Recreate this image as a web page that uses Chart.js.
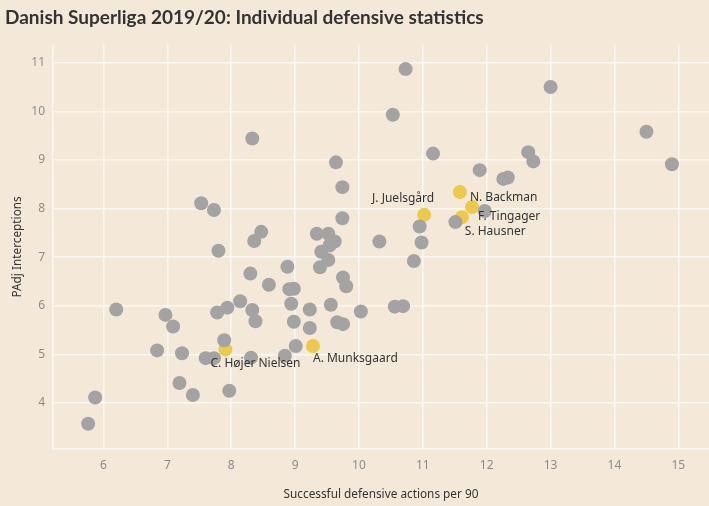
<!DOCTYPE html>
<html>
<head>
<meta charset="utf-8">
<script src="https://cdn.jsdelivr.net/npm/chart.js@4"></script>
<style>
  html, body { margin: 0; padding: 0; background: #f4e9d9; }
  #wrap { width: 709px; height: 506px; }
</style>
</head>
<body>
<div id="wrap"><canvas id="chart"></canvas></div>
<script>
// other players (grey)
const otherActions = [5.76, 5.87, 6.20, 6.97, 7.09, 6.84, 7.23, 7.19, 7.40, 7.60, 7.73, 7.89, 7.97, 8.31, 8.84, 9.01,
  7.53, 7.73, 8.47, 8.36, 7.80, 8.88, 8.30, 8.59, 8.91, 8.98, 8.14, 8.94, 7.78, 7.94, 8.33, 8.38, 8.98, 9.23, 9.23,
  9.56, 9.66, 9.75, 10.03, 10.56, 10.69, 9.75, 9.80, 9.74, 9.74, 9.34, 9.52, 9.62, 9.54, 9.41, 9.52, 9.39, 10.32,
  10.95, 10.98, 10.86, 11.51, 11.97, 11.89, 12.26, 12.33, 12.65, 12.73, 11.16, 10.53, 10.73, 13.00, 14.50, 14.90,
  8.33, 9.64];
const otherInterceptions = [3.57, 4.11, 5.92, 5.81, 5.57, 5.08, 5.02, 4.41, 4.16, 4.92, 4.92, 5.29, 4.25, 4.93, 4.97, 5.17,
  8.11, 7.97, 7.52, 7.33, 7.13, 6.80, 6.66, 6.43, 6.34, 6.35, 6.09, 6.04, 5.86, 5.96, 5.91, 5.68, 5.67, 5.92, 5.54,
  6.02, 5.66, 5.62, 5.88, 5.98, 5.99, 6.58, 6.40, 8.44, 7.80, 7.48, 7.48, 7.32, 7.24, 7.11, 6.94, 6.79, 7.32,
  7.63, 7.30, 6.92, 7.72, 7.95, 8.79, 8.61, 8.64, 9.16, 8.97, 9.13, 9.93, 10.87, 10.50, 9.58, 8.91,
  9.44, 8.95];

// highlighted players (yellow)
const names = ['J. Juelsgård', 'N. Backman', 'F. Tingager', 'S. Hausner', 'C. Højer Nielsen', 'A. Munksgaard'];
const keyActions = [11.02, 11.58, 11.77, 11.61, 7.91, 9.28];
const keyInterceptions = [7.87, 8.34, 8.03, 7.82, 5.10, 5.17];

const xTicks = [6, 7, 8, 9, 10, 11, 12, 13, 14, 15];
const yTicks = [4, 5, 6, 7, 8, 9, 10, 11];

// label offsets from the dot, [dx, dy, align]
const labelPos = [[-21, -16, 'center'], [10, 6, 'left'], [6, 10, 'left'], [3, 14, 'left'], [-15, 14, 'left'], [0, 13, 'left']];

const toPoints = (xs, ys) => xs.map((x, i) => ({ x, y: ys[i] }));

const pointLabels = {
    id: 'pointLabels',
    afterDatasetsDraw(chart) {
        const ctx = chart.ctx;
        const meta = chart.getDatasetMeta(1);
        ctx.save();
        ctx.font = '12px "Noto Sans"';
        ctx.fillStyle = '#333333';
        ctx.textBaseline = 'middle';
        meta.data.forEach((pt, i) => {
            const [dx, dy, align] = labelPos[i];
            ctx.textAlign = align;
            ctx.fillText(names[i], pt.x + dx, pt.y + dy);
        });
        ctx.restore();
    }
};

const gridColor = '#fbf7f1';

new Chart(document.getElementById('chart'), {
    type: 'scatter',
    data: {
        datasets: [{
            data: toPoints(otherActions, otherInterceptions),
            backgroundColor: '#a3a3a3',
            pointRadius: 7,
            pointHoverRadius: 7,
            borderWidth: 0
        }, {
            data: toPoints(keyActions, keyInterceptions),
            backgroundColor: '#ecc94b',
            pointRadius: 7,
            pointHoverRadius: 7,
            borderWidth: 0
        }]
    },
    options: {
        responsive: true,
        maintainAspectRatio: false,
        animation: false,
        layout: { autoPadding: false, padding: { left: 5, right: 0, top: 0, bottom: 0 } },
        plugins: {
            legend: { display: false },
            tooltip: { enabled: false },
            title: {
                display: true,
                text: 'Danish Superliga 2019/20: Individual defensive statistics',
                align: 'start',
                color: '#333333',
                font: { family: 'Lato', size: 19, weight: 'bold' },
                padding: { top: 6, bottom: 16 }
            }
        },
        scales: {
            x: {
                type: 'linear',
                min: 5.21,
                max: 15.48,
                afterBuildTicks: s => { s.ticks = xTicks.map(v => ({ value: v })); },
                afterFit: s => { s.height = 57; },
                grid: { color: gridColor, lineWidth: 1.5, drawTicks: false },
                border: { color: gridColor, width: 1.5 },
                ticks: { color: '#8c8c8c', padding: 9, font: { family: '"Noto Sans"', size: 12 } },
                title: {
                    display: true,
                    text: 'Successful defensive actions per 90',
                    color: '#333333',
                    font: { family: '"Noto Sans"', size: 11.8 },
                    padding: { top: 9 }
                }
            },
            y: {
                type: 'linear',
                min: 3.05,
                max: 11.37,
                afterBuildTicks: s => { s.ticks = yTicks.map(v => ({ value: v })); },
                afterFit: s => { s.width = 48; },
                grid: { color: gridColor, lineWidth: 1.5, drawTicks: false },
                border: { color: gridColor, width: 1.5 },
                ticks: { color: '#8c8c8c', padding: 8, font: { family: '"Noto Sans"', size: 12 } },
                title: {
                    display: true,
                    text: 'PAdj Interceptions',
                    color: '#333333',
                    font: { family: '"Noto Sans"', size: 11.8 },
                    padding: { top: 6, bottom: 4 }
                }
            }
        }
    },
    plugins: [pointLabels]
});
</script>
</body>
</html>
